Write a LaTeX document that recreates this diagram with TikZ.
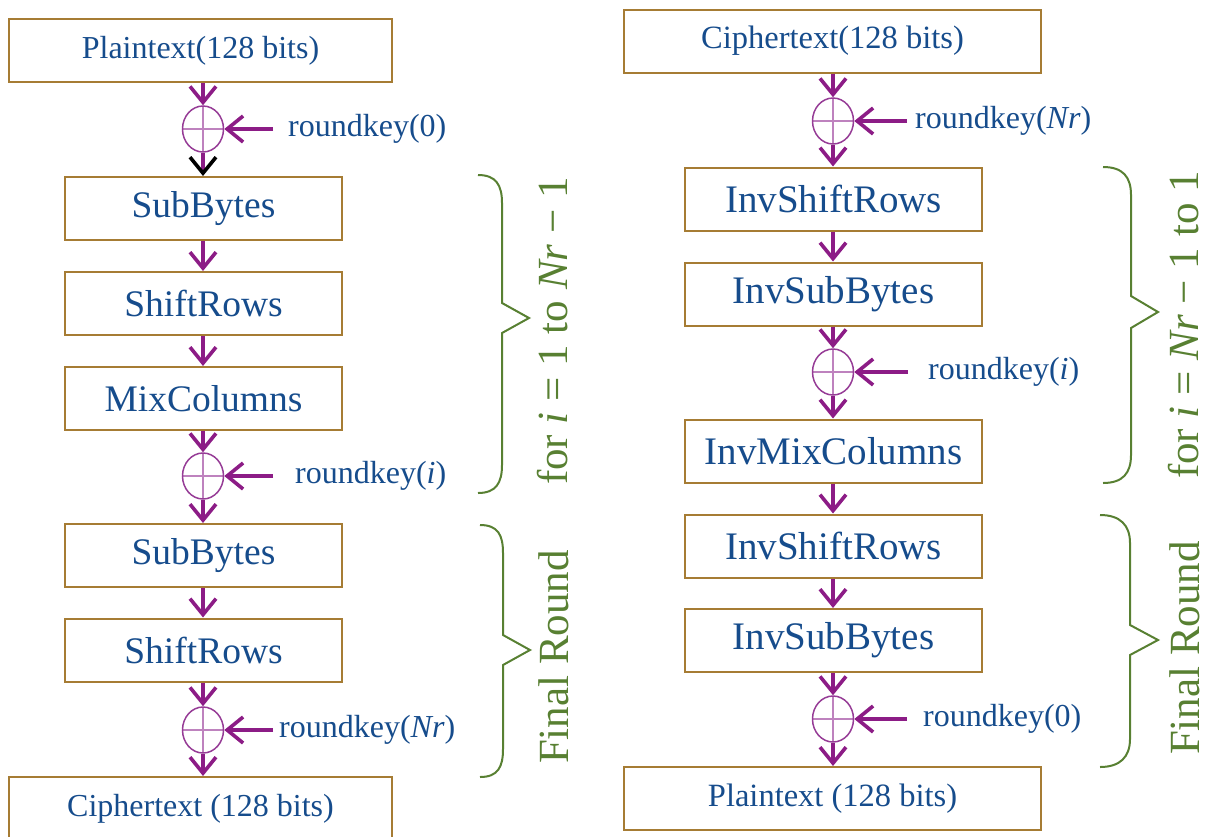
\documentclass[tikz,border=0pt]{standalone}
\usepackage{fontspec}
\setmainfont{Liberation Serif}
\usetikzlibrary{arrows.meta,shapes.geometric}
\definecolor{boxc}{RGB}{166,124,52}
\definecolor{txtc}{RGB}{22,76,140}
\definecolor{arrc}{RGB}{140,28,134}
\definecolor{xorc}{RGB}{150,60,150}
\definecolor{crossc}{RGB}{190,130,190}
\definecolor{brc}{RGB}{88,128,50}
\tikzset{
  stage/.style={draw=boxc, line width=2pt, minimum height=63pt, inner sep=0pt, text=txtc},
  wide/.style={stage, font=\fontsize{32}{36}\selectfont},
  opL/.style={stage, minimum width=277pt, font=\fontsize{37.5}{42}\selectfont},
  opR/.style={stage, minimum width=297pt, font=\fontsize{39}{44}\selectfont},
  xorop/.style={ellipse, draw=xorc, line width=1.5pt, minimum width=41pt, minimum height=46pt, inner sep=0pt,
    path picture={\draw[crossc, line width=1.6pt]
      (path picture bounding box.north) -- (path picture bounding box.south)
      (path picture bounding box.west) -- (path picture bounding box.east);}},
  keytext/.style={anchor=west, text=txtc, inner sep=0pt, font=\fontsize{32}{36}\selectfont},
  flow/.style={draw=arrc, line width=3.6pt, -{Straight Barb[length=16pt,width=26pt]}},
  blacktip/.style={-{Straight Barb[length=16pt,width=26pt,color=black]}},
  bracepath/.style={draw=brc, line width=2pt, line join=miter},
  bracetext/.style={rotate=90, anchor=base, text=brc, inner sep=0pt, font=\fontsize{43}{48}\selectfont}
}
\begin{document}
\begin{tikzpicture}[x=1pt,y=-1pt]
\useasboundingbox (0,0) rectangle (1206,836);

% ---------------- encryption ----------------
\node[wide, minimum width=383pt] (ptL) at (200.5,50.5) {Plaintext(128 bits)};
\node[xorop] (xa) at (203,129) {};
\coordinate (ka) at (273,129);
\node[keytext] (kta) at (288,129) {roundkey(0)};
\node[opL] (sb1) at (203.5,208.5) {SubBytes};
\node[opL] (sr1) at (203.5,303.5) {ShiftRows};
\node[opL] (mc)  at (203.5,398.5) {MixColumns};
\node[xorop] (xb) at (203,476) {};
\coordinate (kb) at (273,476);
\node[keytext] (ktb) at (295,476) {roundkey(\textit{i})};
\node[opL] (sb2) at (203.5,555.5) {SubBytes};
\node[opL] (sr2) at (203.5,650) {ShiftRows};
\node[xorop] (xc) at (203,730) {};
\coordinate (kc) at (273,730);
\node[keytext] (ktc) at (279,730) {roundkey(\textit{Nr})};
\node[wide, minimum width=383pt] (ctL) at (200.5,808.5) {Ciphertext (128 bits)};

\draw[flow] (ptL.south -| xa) -- (xa.north);
\draw[flow] (ka) -- (xa.east);
\draw[flow, blacktip] (xa.south) -- (sb1.north -| xa);
\draw[flow] (sb1.south -| xa) -- (sr1.north -| xa);
\draw[flow] (sr1.south -| xa) -- (mc.north -| xa);
\draw[flow] (mc.south -| xb) -- (xb.north);
\draw[flow] (kb) -- (xb.east);
\draw[flow] (xb.south) -- (sb2.north -| xb);
\draw[flow] (sb2.south -| xb) -- (sr2.north -| xb);
\draw[flow] (sr2.south -| xc) -- (xc.north);
\draw[flow] (kc) -- (xc.east);
\draw[flow] (xc.south) -- (ctL.north -| xc);

\draw[bracepath] (478,175) .. controls (496,175) and (502,185) .. (502,203)
  -- (502,303) -- (529,318) -- (502,333) -- (502,465)
  .. controls (502,483) and (496,493) .. (478,493);
\node[bracetext] (loopL) at (567,331) {for \textit{i} = 1 to \textit{Nr} − 1};
\draw[bracepath] (480,525) .. controls (498,525) and (503,535) .. (503,553)
  -- (503,635) -- (530,650) -- (503,665) -- (503,749)
  .. controls (503,767) and (498,777) .. (480,777);
\node[bracetext] (lastL) at (568,657) {Final Round};

% ---------------- decryption ----------------
\node[wide, minimum width=417pt, font=\fontsize{32.5}{36}\selectfont] (ctR) at (832.5,41) {Ciphertext(128 bits)};
\node[xorop] (xd) at (833,121) {};
\coordinate (kd) at (907,121);
\node[keytext] (ktd) at (915,121) {roundkey(\textit{Nr})};
\node[opR] (isr1) at (833.5,199) {InvShiftRows};
\node[opR] (isb1) at (833.5,294) {InvSubBytes};
\node[xorop] (xe) at (833,372) {};
\coordinate (ke) at (908,372);
\node[keytext] (kte) at (928,372) {roundkey(\textit{i})};
\node[opR] (imc) at (833.5,451) {InvMixColumns};
\node[opR] (isr2) at (833.5,546) {InvShiftRows};
\node[opR] (isb2) at (833.5,640.5) {InvSubBytes};
\node[xorop] (xf) at (833,719) {};
\coordinate (kf) at (907,719);
\node[keytext] (ktf) at (923,719) {roundkey(0)};
\node[wide, minimum width=417pt, font=\fontsize{32.5}{36}\selectfont] (ptR) at (832.5,798.5) {Plaintext (128 bits)};

\draw[flow] (ctR.south -| xd) -- (xd.north);
\draw[flow] (kd) -- (xd.east);
\draw[flow] (xd.south) -- (isr1.north -| xd);
\draw[flow] (isr1.south -| xd) -- (isb1.north -| xd);
\draw[flow] (isb1.south -| xe) -- (xe.north);
\draw[flow] (ke) -- (xe.east);
\draw[flow] (xe.south) -- (imc.north -| xe);
\draw[flow] (imc.south -| xe) -- (isr2.north -| xe);
\draw[flow] (isr2.south -| xf) -- (isb2.north -| xf);
\draw[flow] (isb2.south -| xf) -- (xf.north);
\draw[flow] (kf) -- (xf.east);
\draw[flow] (xf.south) -- (ptR.north -| xf);

\draw[bracepath] (1103,167) .. controls (1123,167) and (1131,177) .. (1131,195)
  -- (1131,296) -- (1158,312) -- (1131,328) -- (1131,455)
  .. controls (1131,473) and (1123,483) .. (1103,483);
\node[bracetext] (loopR) at (1198,325) {for \textit{i} = \textit{Nr} − 1 to 1};
\draw[bracepath] (1100,515) .. controls (1120,515) and (1130,525) .. (1130,543)
  -- (1130,625) -- (1158,640) -- (1130,655) -- (1130,739)
  .. controls (1130,757) and (1120,767) .. (1100,767);
\node[bracetext] (lastR) at (1199,648) {Final Round};
\end{tikzpicture}
\end{document}
